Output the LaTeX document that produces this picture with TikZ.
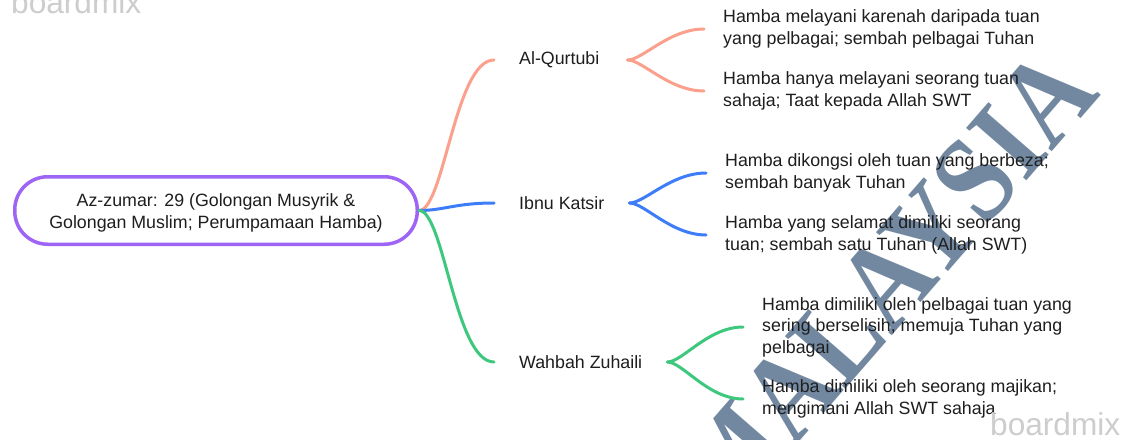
\documentclass[tikz,border=0pt]{standalone}
\usepackage{fontspec}
\setmainfont{Liberation Sans}
\newfontfamily\wmfont[FakeStretch=0.87]{Liberation Serif}
\definecolor{cpurple}{RGB}{158,101,245}
\definecolor{corange}{RGB}{250,160,140}
\definecolor{cblue}{RGB}{62,125,250}
\definecolor{cgreen}{RGB}{62,200,125}
\definecolor{ctext}{RGB}{30,30,30}
\definecolor{cwm}{RGB}{95,120,148}
\definecolor{cbm}{RGB}{205,205,205}
\begin{document}
\begin{tikzpicture}[x=1pt,y=-1pt,
  txt/.style={font=\fontsize{17.8}{21.5}\selectfont, text=ctext, align=left, inner ysep=0pt},
  rootbox/.style={txt, align=center, draw=cpurple, line width=3.5pt, rounded corners=33pt, minimum width=402.5pt, minimum height=67.5pt, fill=white},
  midlabel/.style={txt, anchor=west, inner xsep=25pt},
  leaf/.style={txt, anchor=west, inner xsep=19pt},
  link/.style={line width=3pt, line cap=round},
  wmark/.style={text=cbm, inner sep=0pt, anchor=base west, font=\fontsize{31.6}{32}\selectfont},
]
\useasboundingbox (0,0) rectangle (1129,439);
\fill[white] (0,0) rectangle (1129,439);

% background watermark
\node[rotate=49, text=cwm, text opacity=0.88, inner sep=0pt,
  font=\wmfont\bfseries\fontsize{122}{122}\selectfont] (wm) at (885,283) {MALAYSIA};

% root
\node[rootbox] (root) at (216,210.5) {\rule{0pt}{18pt}Az-zumar: 29 (Golongan Musyrik \&\\ Golongan Muslim; Perumpamaan Hamba)};

% mid labels
\node[midlabel] (q) at (494,60) {Al-Qurtubi\hspace{3pt}};
\node[midlabel] (k) at (494,203) {Ibnu Katsir};
\node[midlabel] (w) at (494,362) {Wahbah Zuhaili};

% leaves
\node[leaf] (q1) at (704,29) {Hamba melayani karenah daripada tuan\\ yang pelbagai; sembah pelbagai Tuhan};
\node[leaf] (q2) at (704,91) {Hamba hanya melayani seorang tuan\\ sahaja; Taat kepada Allah SWT};
\node[leaf] (k1) at (706,173) {Hamba dikongsi oleh tuan yang berbeza;\\ sembah banyak Tuhan};
\node[leaf] (k2) at (706,235) {Hamba yang selamat dimiliki seorang\\ tuan; sembah satu Tuhan (Allah SWT)};
\node[leaf] (w1) at (743,327) {Hamba dimiliki oleh pelbagai tuan yang\\ sering berselisih; memuja Tuhan yang\\ pelbagai};
\node[leaf] (w2) at (743,399) {Hamba dimiliki oleh seorang majikan;\\ mengimani Allah SWT sahaja};

% connectors level 1
\draw[link, corange] (root.east) .. controls +(25,0) and +(-39,0) .. (q.west);
\draw[link, cblue] (root.east) .. controls +(25,0) and +(-39,0) .. (k.west);
\draw[link, cgreen] (root.east) .. controls +(25,0) and +(-39,0) .. (w.west);

% connectors level 2
\draw[link, corange] (q.east) .. controls +(15,0) and +(-35,0) .. (q1.west);
\draw[link, corange] (q.east) .. controls +(15,0) and +(-35,0) .. (q2.west);
\draw[link, cblue] (k.east) .. controls +(15,0) and +(-35,0) .. (k1.west);
\draw[link, cblue] (k.east) .. controls +(15,0) and +(-35,0) .. (k2.west);
\draw[link, cgreen] (w.east) .. controls +(15,0) and +(-35,0) .. (w1.west);
\draw[link, cgreen] (w.east) .. controls +(15,0) and +(-35,0) .. (w2.west);

% boardmix marks
\node[wmark] (bm1) at (11,13) {boardmix};
\node[wmark] (bm2) at (990,435) {boardmix};
\end{tikzpicture}
\end{document}
